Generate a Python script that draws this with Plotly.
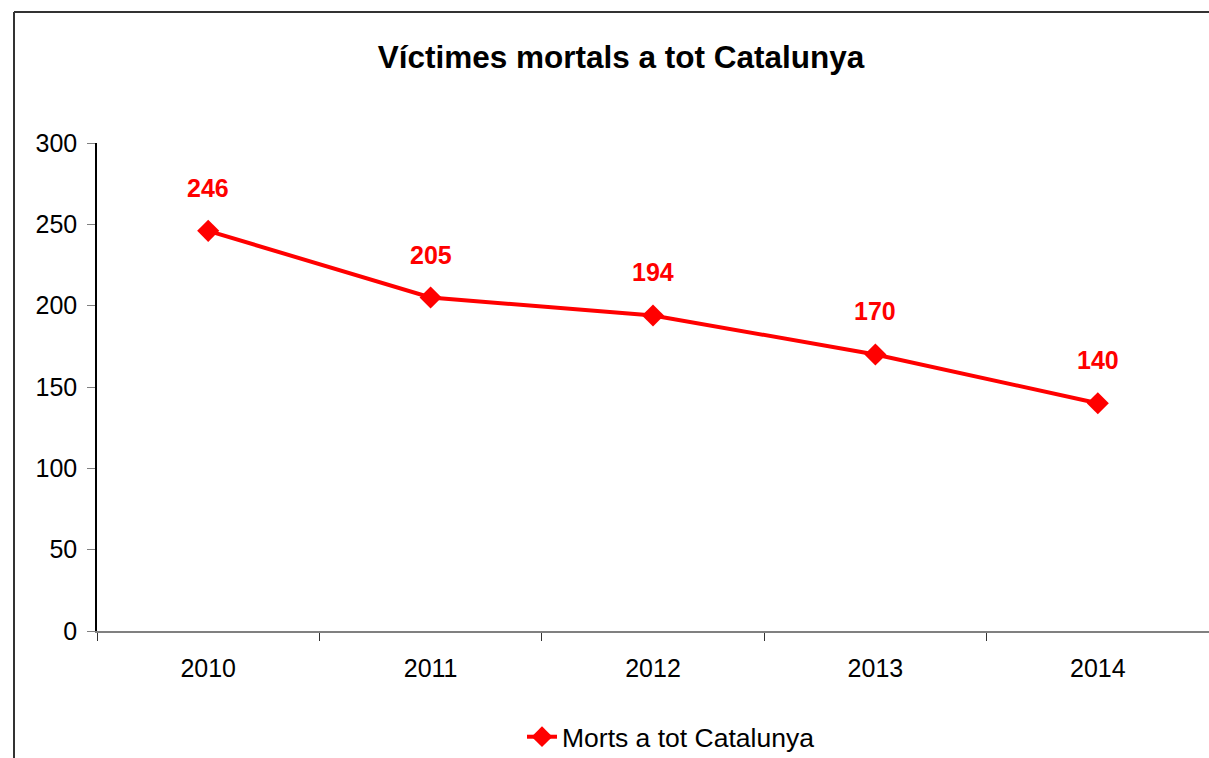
import plotly.graph_objects as go

years = ["2010", "2011", "2012", "2013", "2014"]
deaths = [246, 205, 194, 170, 140]
series_name = "Morts a tot Catalunya"
title_text = "Víctimes mortals a tot Catalunya"
y_ticks = [0, 50, 100, 150, 200, 250, 300]

W, H = 1209, 758
L, R, T, B = 97, 0, 143, 127
pw, ph = W - L - R, H - T - B

def px_x(x):
    return (x - L) / pw

def px_y(y):
    return (H - B - y) / ph

RED = "#FF0000"
FONT = "Liberation Sans, Arial, sans-serif"

fig = go.Figure()
fig.add_trace(go.Scatter(
    x=years, y=deaths, name=series_name, mode="lines+markers",
    line=dict(color=RED, width=4),
    marker=dict(symbol="diamond", size=17, color=RED),
    showlegend=True,
))

for i, v in enumerate(deaths):
    fig.add_annotation(x=i, y=v, xref="x", yref="y", text="<b>%d</b>" % v, showarrow=False,
                       yshift=43, font=dict(color=RED, size=25, family=FONT))

fig.update_layout(
    width=W, height=H,
    margin=dict(l=L, r=R, t=T, b=B, pad=0, autoexpand=False),
    paper_bgcolor="white", plot_bgcolor="white",
    font=dict(family=FONT, size=25, color="black"),
    title=dict(text="<b>" + title_text + "</b>", x=621 / W, xanchor="center",
               y=1 - 57 / H, yanchor="middle", xref="container", yref="container",
               font=dict(size=31.5, family=FONT, color="black")),
    showlegend=True,
    legend=dict(orientation="h", x=px_x(671), xanchor="center", y=px_y(737), yanchor="middle",
                font=dict(size=26.5, family=FONT), bgcolor="rgba(0,0,0,0)"),
    xaxis=dict(type="category", categoryarray=years, range=[-0.5, len(years) - 0.5],
               showgrid=False, showline=True, linecolor="#808080", linewidth=2,
               ticks="outside", ticklen=8, tickcolor="#333333", tickson="boundaries",
               tickangle=0, tickfont=dict(size=25, family=FONT), zeroline=False,
               ticklabelstandoff=14, automargin=False),
    yaxis=dict(range=[0, 300], tickvals=y_ticks, showgrid=False, showline=True,
               linecolor="black", linewidth=1.5, ticks="outside", ticklen=8, tickcolor="#808080",
               tickfont=dict(size=25, family=FONT), zeroline=False, ticklabelstandoff=5,
               automargin=False),
    shapes=[
        dict(type="line", xref="paper", yref="paper", x0=px_x(14), x1=px_x(1230),
             y0=px_y(12), y1=px_y(12), line=dict(color="#333333", width=2)),
        dict(type="line", xref="paper", yref="paper", x0=px_x(14), x1=px_x(14),
             y0=px_y(12), y1=px_y(800), line=dict(color="#333333", width=2)),
    ],
)

fig.write_html("out.html", config={"displayModeBar": False},
               post_script="document.body.style.margin='0';document.body.style.overflow='hidden';")
